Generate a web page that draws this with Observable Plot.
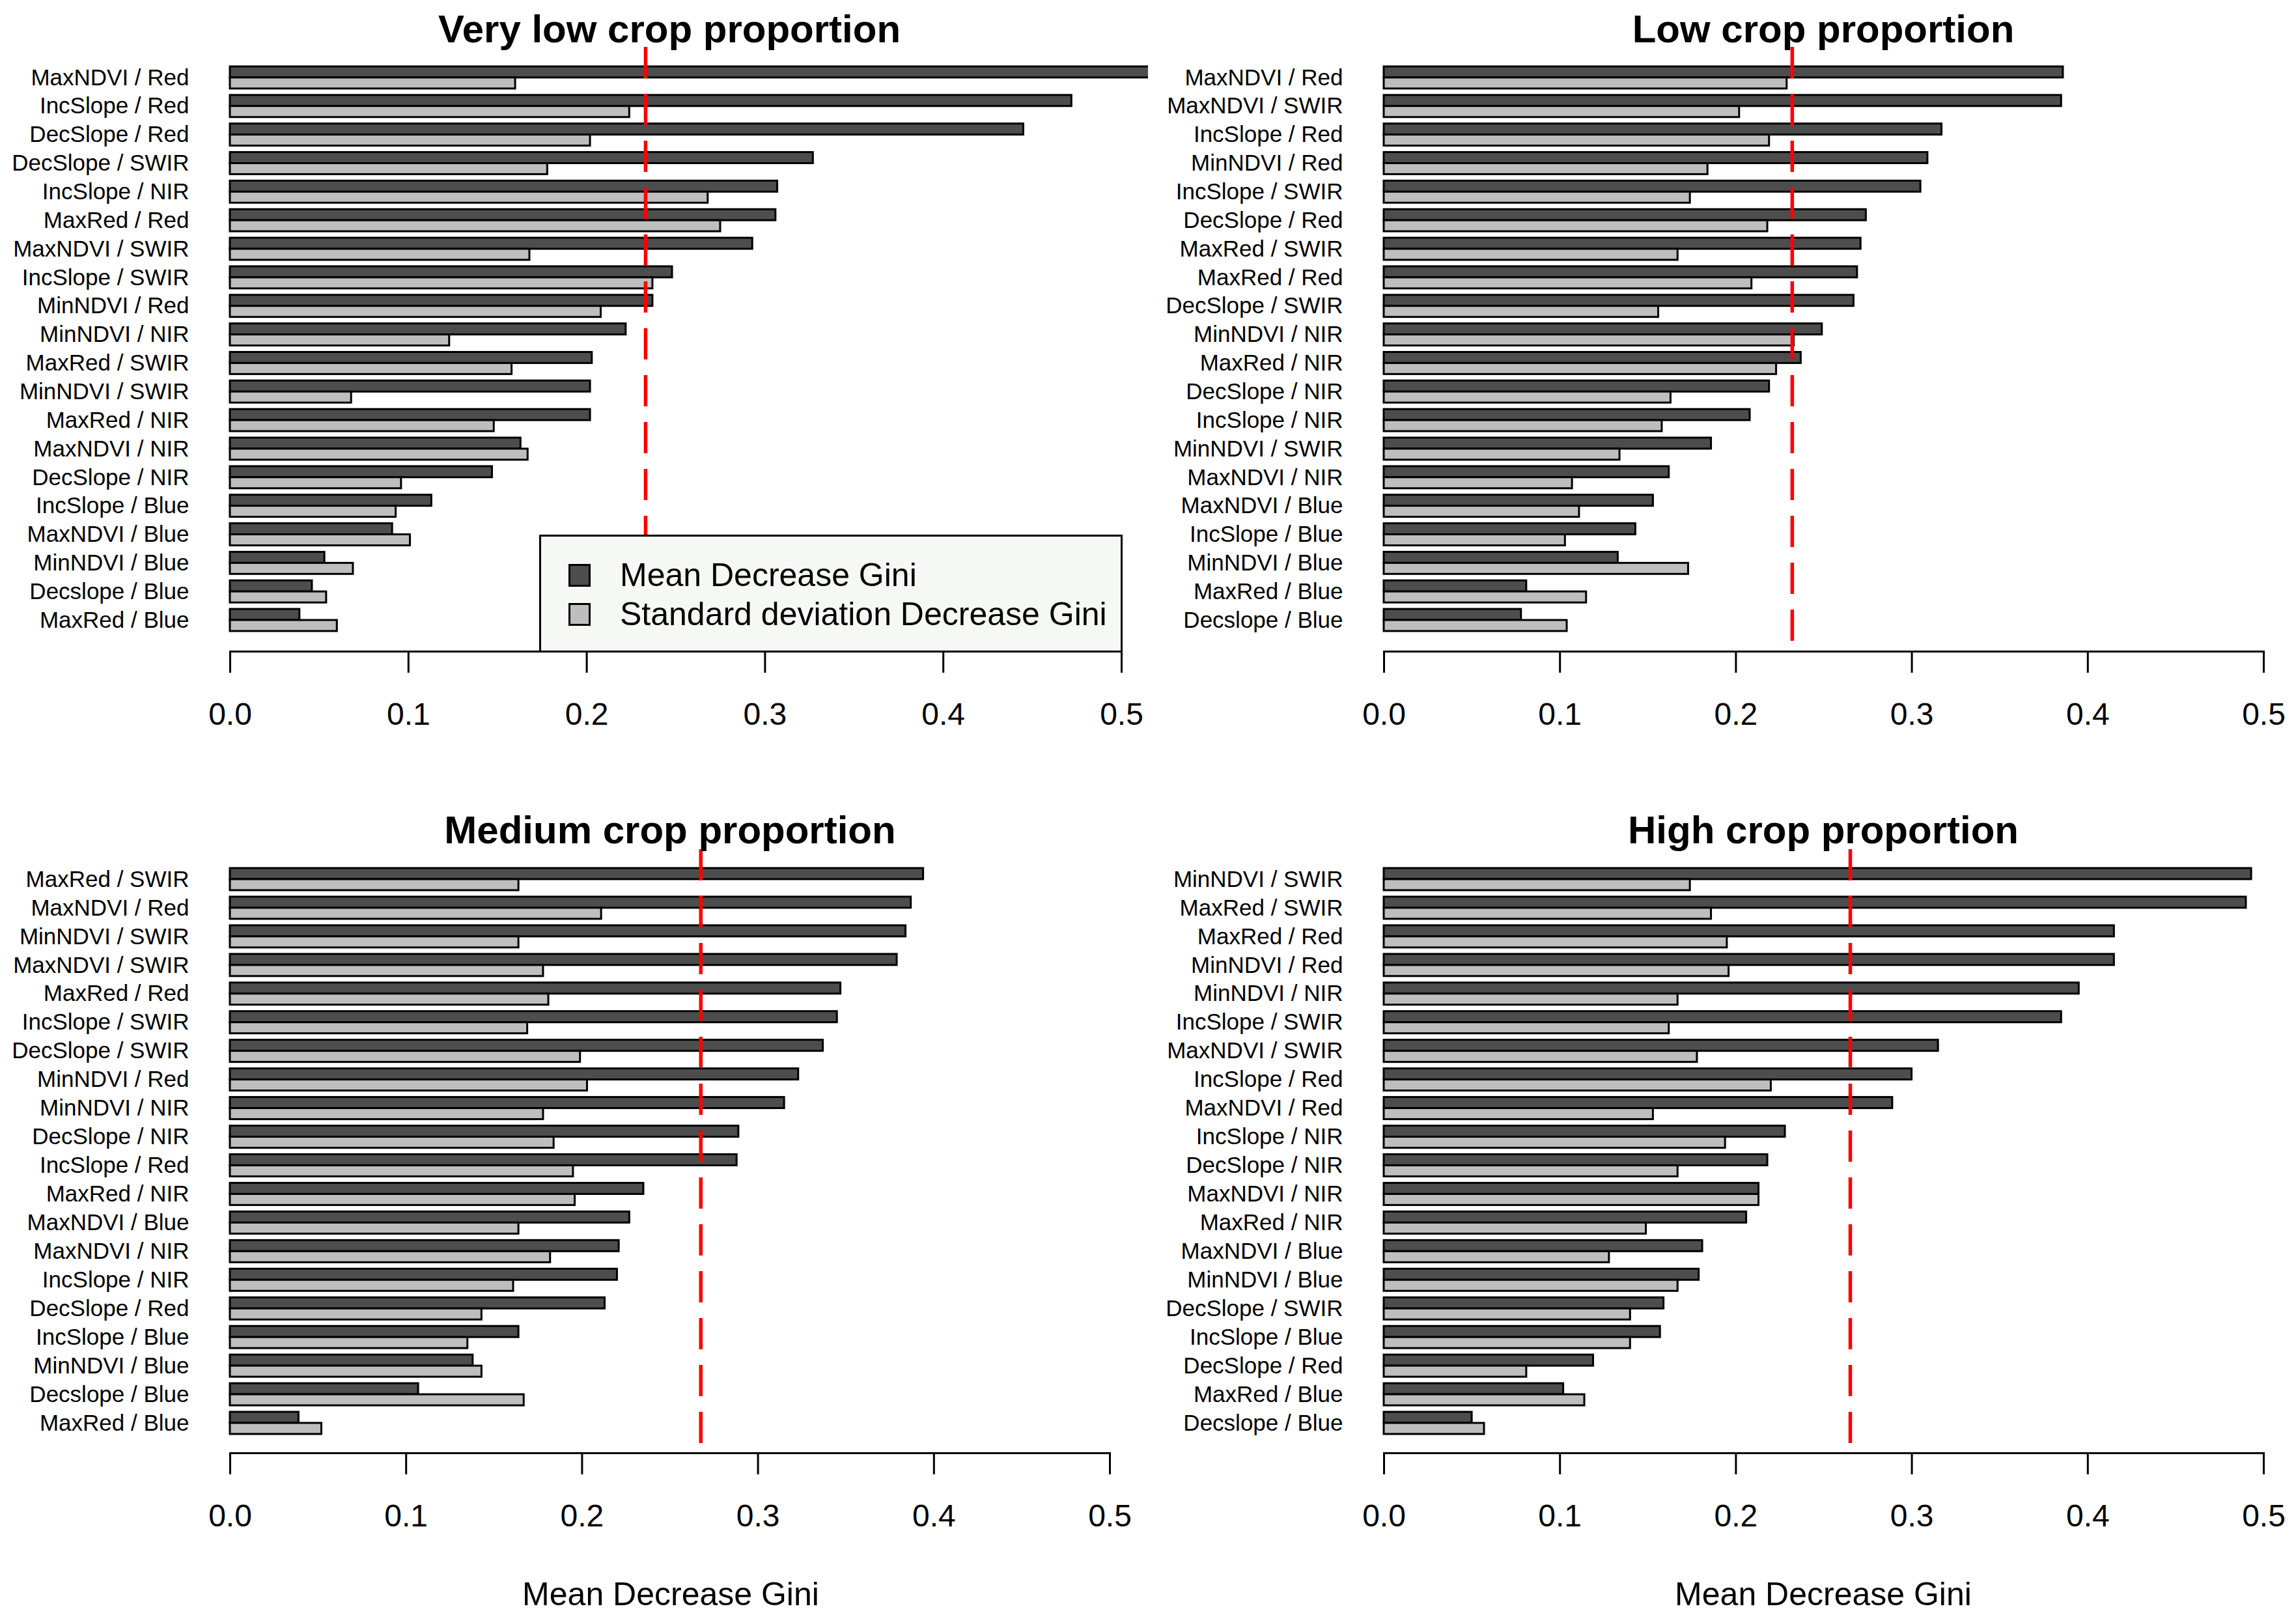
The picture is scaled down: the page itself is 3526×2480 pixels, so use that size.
<!DOCTYPE html>
<html>
<head>
<meta charset="utf-8">
<script src="https://cdn.jsdelivr.net/npm/d3@7"></script>
<script src="https://cdn.jsdelivr.net/npm/@observablehq/plot@0.6"></script>
<style>
  html, body { margin: 0; padding: 0; background: white; }
  #page { position: relative; width: 3526px; height: 2480px; background: white; overflow: hidden;
          font-family: "Liberation Sans", Arial, Helvetica, sans-serif; color: black; }
  .panel { position: absolute; }
  .title { position: absolute; font-weight: bold; font-size: 60px; line-height: 1; white-space: nowrap; transform: translate(-50%, -50%); }
  .xtitle { position: absolute; font-size: 50px; line-height: 1; white-space: nowrap; transform: translate(-50%, -50%); }
  .legend { position: absolute; background: #f6f8f6; border: 3px solid black; box-sizing: border-box; }
  .lsq { position: absolute; width: 34px; height: 35px; border: 3px solid black; box-sizing: border-box; }
  .ltx { position: absolute; font-size: 50px; line-height: 1; white-space: nowrap; transform: translateY(-50%); }
</style>
</head>
<body>
<div id="page"></div>
<script>
// ---------------- DATA ----------------
const panelTitles = ["Very low crop proportion", "Low crop proportion", "Medium crop proportion", "High crop proportion"];
const seriesNames = ["Mean Decrease Gini", "Standard deviation Decrease Gini"];
const xAxisTitle = "Mean Decrease Gini";
const xTicks = [0, 0.1, 0.2, 0.3, 0.4, 0.5];

const veryLowLabels = ["MaxNDVI / Red","IncSlope / Red","DecSlope / Red","DecSlope / SWIR","IncSlope / NIR","MaxRed / Red","MaxNDVI / SWIR","IncSlope / SWIR","MinNDVI / Red","MinNDVI / NIR","MaxRed / SWIR","MinNDVI / SWIR","MaxRed / NIR","MaxNDVI / NIR","DecSlope / NIR","IncSlope / Blue","MaxNDVI / Blue","MinNDVI / Blue","Decslope / Blue","MaxRed / Blue"];
const veryLowMean = [0.516,0.472,0.445,0.327,0.307,0.306,0.293,0.248,0.237,0.222,0.203,0.202,0.202,0.163,0.147,0.113,0.091,0.053,0.046,0.039];
const veryLowSd   = [0.160,0.224,0.202,0.178,0.268,0.275,0.168,0.237,0.208,0.123,0.158,0.068,0.148,0.167,0.096,0.093,0.101,0.069,0.054,0.060];
const veryLowThreshold = 0.233;

const lowLabels = ["MaxNDVI / Red","MaxNDVI / SWIR","IncSlope / Red","MinNDVI / Red","IncSlope / SWIR","DecSlope / Red","MaxRed / SWIR","MaxRed / Red","DecSlope / SWIR","MinNDVI / NIR","MaxRed / NIR","DecSlope / NIR","IncSlope / NIR","MinNDVI / SWIR","MaxNDVI / NIR","MaxNDVI / Blue","IncSlope / Blue","MinNDVI / Blue","MaxRed / Blue","Decslope / Blue"];
const lowMean = [0.386,0.385,0.317,0.309,0.305,0.274,0.271,0.269,0.267,0.249,0.237,0.219,0.208,0.186,0.162,0.153,0.143,0.133,0.081,0.078];
const lowSd   = [0.229,0.202,0.219,0.184,0.174,0.218,0.167,0.209,0.156,0.233,0.223,0.163,0.158,0.134,0.107,0.111,0.103,0.173,0.115,0.104];
const lowThreshold = 0.232;

const mediumLabels = ["MaxRed / SWIR","MaxNDVI / Red","MinNDVI / SWIR","MaxNDVI / SWIR","MaxRed / Red","IncSlope / SWIR","DecSlope / SWIR","MinNDVI / Red","MinNDVI / NIR","DecSlope / NIR","IncSlope / Red","MaxRed / NIR","MaxNDVI / Blue","MaxNDVI / NIR","IncSlope / NIR","DecSlope / Red","IncSlope / Blue","MinNDVI / Blue","Decslope / Blue","MaxRed / Blue"];
const mediumMean = [0.394,0.387,0.384,0.379,0.347,0.345,0.337,0.323,0.315,0.289,0.288,0.235,0.227,0.221,0.220,0.213,0.164,0.138,0.107,0.039];
const mediumSd   = [0.164,0.211,0.164,0.178,0.181,0.169,0.199,0.203,0.178,0.184,0.195,0.196,0.164,0.182,0.161,0.143,0.135,0.143,0.167,0.052];
const mediumThreshold = 0.2675;

const highLabels = ["MinNDVI / SWIR","MaxRed / SWIR","MaxRed / Red","MinNDVI / Red","MinNDVI / NIR","IncSlope / SWIR","MaxNDVI / SWIR","IncSlope / Red","MaxNDVI / Red","IncSlope / NIR","DecSlope / NIR","MaxNDVI / NIR","MaxRed / NIR","MaxNDVI / Blue","MinNDVI / Blue","DecSlope / SWIR","IncSlope / Blue","DecSlope / Red","MaxRed / Blue","Decslope / Blue"];
const highMean = [0.493,0.490,0.415,0.415,0.395,0.385,0.315,0.300,0.289,0.228,0.218,0.213,0.206,0.181,0.179,0.159,0.157,0.119,0.102,0.050];
const highSd   = [0.174,0.186,0.195,0.196,0.167,0.162,0.178,0.220,0.153,0.194,0.167,0.213,0.149,0.128,0.167,0.140,0.140,0.081,0.114,0.057];
const highThreshold = 0.265;

// ---------------- STYLE / LAYOUT ----------------
const darkFill = "#4d4d4d";
const lightFill = "#bebebe";
const padInner = 0.227;

const page = document.getElementById("page");

function makePanel(labels, mean, sd, thr, cfg) {
  const rows = labels.map((label, i) => ({label, mean: mean[i], sd: sd[i]}));
  const n = labels.length;
  const bw = (cfg.yBot - cfg.yTop) / (n - padInner) * (1 - padInner);
  const half = bw / 2;
  const chart = Plot.plot({
    width: cfg.width,
    height: cfg.height,
    marginLeft: cfg.marginLeft,
    marginRight: cfg.marginRight,
    marginTop: cfg.marginTop,
    marginBottom: cfg.marginBottom,
    style: {fontFamily: "Liberation Sans, Arial, sans-serif", color: "black", background: "white", overflow: "visible"},
    x: {domain: [0, 0.5]},
    y: {type: "band", domain: labels, range: [cfg.yTop, cfg.yBot], paddingInner: padInner, paddingOuter: 0, round: false},
    marks: [
      Plot.barX(rows, {x: "mean", y: "label", fill: darkFill, stroke: "black", strokeWidth: 3, insetBottom: half}),
      Plot.barX(rows, {x: "sd", y: "label", fill: lightFill, stroke: "black", strokeWidth: 3, insetTop: half}),
      Plot.ruleX([thr], {stroke: "#ff0000", strokeWidth: 5.5, strokeDasharray: "48,24"}),
      Plot.frame({anchor: "bottom", stroke: "black", strokeWidth: 3}),
      Plot.axisX({ticks: xTicks, tickFormat: d3.format(".1f"), tickSize: 33, tickPadding: 45, fontSize: 48, strokeWidth: 3, label: null}),
      Plot.axisY({tickSize: 0, tickPadding: 63, fontSize: 35, label: null})
    ]
  });
  chart.classList.add("panel");
  chart.style.left = cfg.left + "px";
  chart.style.top = cfg.top + "px";
  page.appendChild(chart);
}

const W = 1763, H = 1240;
// top-left
makePanel(veryLowLabels, veryLowMean, veryLowSd, veryLowThreshold,
  {left: 0, top: 0, width: W, height: H, marginLeft: 353, marginRight: 41, marginTop: 72, marginBottom: 240, yTop: 102, yBot: 969});
// top-right
makePanel(lowLabels, lowMean, lowSd, lowThreshold,
  {left: W, top: 0, width: W, height: H, marginLeft: 362, marginRight: 50, marginTop: 72, marginBottom: 240, yTop: 102, yBot: 969});
// bottom-left
makePanel(mediumLabels, mediumMean, mediumSd, mediumThreshold,
  {left: 0, top: H, width: W, height: H, marginLeft: 353, marginRight: 59, marginTop: 64, marginBottom: 249, yTop: 93, yBot: 962});
// bottom-right
makePanel(highLabels, highMean, highSd, highThreshold,
  {left: W, top: H, width: W, height: H, marginLeft: 362, marginRight: 50, marginTop: 64, marginBottom: 249, yTop: 93, yBot: 962});

// titles
const titlePos = [[1028, 45], [2800, 45], [1029, 1275], [2800, 1275]];
panelTitles.forEach((t, i) => {
  const d = document.createElement("div");
  d.className = "title";
  d.textContent = t;
  d.style.left = titlePos[i][0] + "px";
  d.style.top = titlePos[i][1] + "px";
  page.appendChild(d);
});

// x-axis titles (bottom row)
[[1030, 2448], [2800, 2448]].forEach(p => {
  const d = document.createElement("div");
  d.className = "xtitle";
  d.textContent = xAxisTitle;
  d.style.left = p[0] + "px";
  d.style.top = p[1] + "px";
  page.appendChild(d);
});

// legend (top-left panel, bottom right)
const leg = document.createElement("div");
leg.className = "legend";
leg.style.left = "828px"; leg.style.top = "821px";
leg.style.width = (1724 - 828) + "px"; leg.style.height = (1002 - 821) + "px";
page.appendChild(leg);
[[darkFill, 883], [lightFill, 943]].forEach((e, i) => {
  const sq = document.createElement("div");
  sq.className = "lsq";
  sq.style.background = e[0];
  sq.style.left = "873px";
  sq.style.top = (e[1] - 17) + "px";
  page.appendChild(sq);
  const tx = document.createElement("div");
  tx.className = "ltx";
  tx.textContent = seriesNames[i];
  tx.style.left = "952px";
  tx.style.top = e[1] + "px";
  page.appendChild(tx);
});
</script>
</body>
</html>
